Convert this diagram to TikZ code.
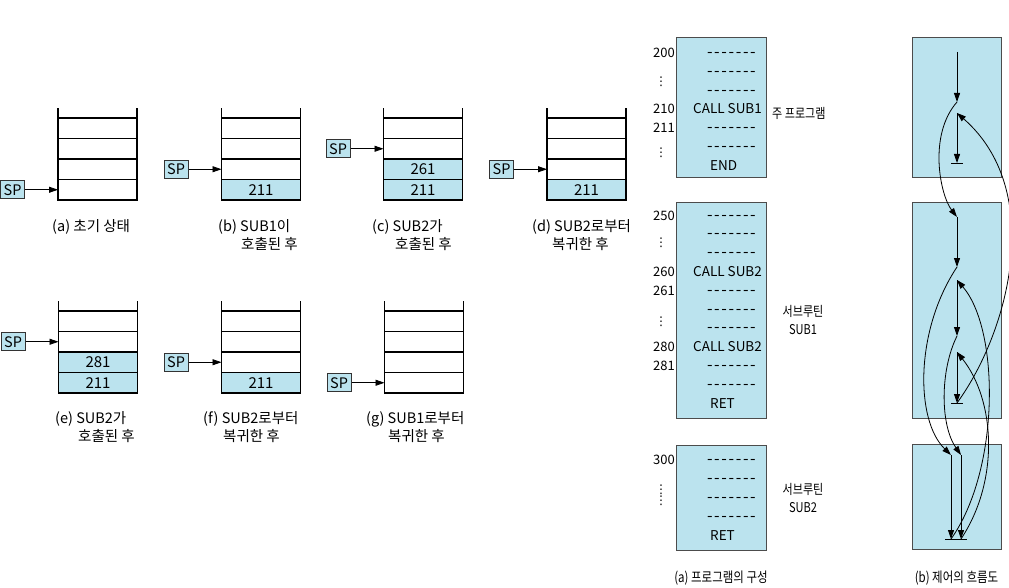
\documentclass[tikz,border=0pt]{standalone}
\usepackage{fontspec}
\setmainfont{Noto Sans CJK KR}
\newfontfamily\narrowkr{Noto Sans CJK KR}[FakeStretch=0.82]
\newfontfamily\symfont{DejaVu Sans}
\usepackage{xcolor}
\usetikzlibrary{positioning,calc,arrows.meta}
\definecolor{cellblue}{RGB}{187,227,238}
\newcommand{\codedash}{{\fontsize{16}{16}\selectfont\makebox[7.2pt]{-}\makebox[7.2pt]{-}\makebox[7.2pt]{-}\makebox[7.2pt]{-}\makebox[7.2pt]{-}\makebox[7.2pt]{-}\makebox[7.2pt]{-}}}

\begin{document}
\begin{tikzpicture}[
    x=1pt, y=-1pt,
    stackcell/.style={rectangle, draw=black, line width=1.1pt, minimum width=79pt, minimum height=20.5pt, inner sep=0pt, outer sep=0pt, font=\fontsize{15}{15}\selectfont},
    stackline/.style={draw=black, line width=1.1pt},
    spbox/.style={rectangle, draw=black!80, fill=cellblue, line width=0.8pt, minimum width=24pt, minimum height=18pt, inner sep=0pt, font=\fontsize{14.5}{14.5}\selectfont},
    ptr/.style={-{Triangle[length=9pt,width=6pt]}, line width=0.8pt},
    caption/.style={anchor=base west, align=left, inner sep=0pt, font=\fontsize{14.5}{18.5}\selectfont},
    progbox/.style={rectangle, draw=black!70, fill=cellblue, line width=1pt, minimum width=90pt, inner sep=0pt},
    codetext/.style={anchor=base west, inner sep=0pt, font=\fontsize{13.5}{13.5}\selectfont},
    addr/.style={anchor=base east, inner sep=0pt, font=\fontsize{13}{13}\selectfont},
    vdots/.style={inner sep=0pt, align=center, font=\symfont\fontsize{12}{11}\selectfont},
    sidelabel/.style={inner sep=0pt, align=center, font=\narrowkr\fontsize{13.5}{17.5}\selectfont},
    bottomcap/.style={anchor=base, inner sep=0pt, font=\narrowkr\fontsize{14}{14}\selectfont},
    flow/.style={-{Triangle[length=9pt,width=6pt]}, line width=0.8pt},
    tee/.style={line width=0.8pt}
]
    \useasboundingbox (0,0) rectangle (1009,588);

    \node[stackcell] (a1) at (97.5,189.75) {};
    \node[stackcell, above=0pt of a1] (a2) {};
    \node[stackcell, above=0pt of a2] (a3) {};
    \node[stackcell, above=0pt of a3] (a4) {};
    \draw[stackline] (a4.north west) -- ++(0,-10) (a4.north east) -- ++(0,-10);
    \node[spbox, left=33pt of a1] (spa) {SP};
    \draw[ptr] (spa) -- (a1);
    \node[caption] (capa) at (52,231) {(a) 초기 상태};

    \node[stackcell, fill=cellblue] (b1) at (261,189.75) {211};
    \node[stackcell, above=0pt of b1] (b2) {};
    \node[stackcell, above=0pt of b2] (b3) {};
    \node[stackcell, above=0pt of b3] (b4) {};
    \draw[stackline] (b4.north west) -- ++(0,-10) (b4.north east) -- ++(0,-10);
    \node[spbox, left=33pt of b2] (spb) {SP};
    \draw[ptr] (spb) -- (b2);
    \node[caption] (capb) at (218,249.5) {(b) SUB1이\\\hspace*{23pt}호출된 후};

    \node[stackcell, fill=cellblue] (c1) at (423,189.75) {211};
    \node[stackcell, fill=cellblue, above=0pt of c1] (c2) {261};
    \node[stackcell, above=0pt of c2] (c3) {};
    \node[stackcell, above=0pt of c3] (c4) {};
    \draw[stackline] (c4.north west) -- ++(0,-10) (c4.north east) -- ++(0,-10);
    \node[spbox, left=33pt of c3] (spc) {SP};
    \draw[ptr] (spc) -- (c3);
    \node[caption] (capc) at (372,249.5) {(c) SUB2가\\\hspace*{23pt}호출된 후};

    \node[stackcell, fill=cellblue] (d1) at (586.5,189.75) {211};
    \node[stackcell, above=0pt of d1] (d2) {};
    \node[stackcell, above=0pt of d2] (d3) {};
    \node[stackcell, above=0pt of d3] (d4) {};
    \draw[stackline] (d4.north west) -- ++(0,-10) (d4.north east) -- ++(0,-10);
    \node[spbox, left=33pt of d2] (spd) {SP};
    \draw[ptr] (spd) -- (d2);
    \node[caption] (capd) at (532,249.5) {(d) SUB2로부터\\\hspace*{20pt}복귀한 후};

    \node[stackcell, fill=cellblue] (e1) at (98,382.75) {211};
    \node[stackcell, fill=cellblue, above=0pt of e1] (e2) {281};
    \node[stackcell, above=0pt of e2] (e3) {};
    \node[stackcell, above=0pt of e3] (e4) {};
    \draw[stackline] (e4.north west) -- ++(0,-10) (e4.north east) -- ++(0,-10);
    \node[spbox, left=33pt of e3] (spe) {SP};
    \draw[ptr] (spe) -- (e3);
    \node[caption] (cape) at (55,441.5) {(e) SUB2가\\\hspace*{23pt}호출된 후};

    \node[stackcell, fill=cellblue] (f1) at (261,382.75) {211};
    \node[stackcell, above=0pt of f1] (f2) {};
    \node[stackcell, above=0pt of f2] (f3) {};
    \node[stackcell, above=0pt of f3] (f4) {};
    \draw[stackline] (f4.north west) -- ++(0,-10) (f4.north east) -- ++(0,-10);
    \node[spbox, left=33pt of f2] (spf) {SP};
    \draw[ptr] (spf) -- (f2);
    \node[caption] (capf) at (203,441.5) {(f) SUB2로부터\\\hspace*{20pt}복귀한 후};

    \node[stackcell] (g1) at (424,382.75) {};
    \node[stackcell, above=0pt of g1] (g2) {};
    \node[stackcell, above=0pt of g2] (g3) {};
    \node[stackcell, above=0pt of g3] (g4) {};
    \draw[stackline] (g4.north west) -- ++(0,-10) (g4.north east) -- ++(0,-10);
    \node[spbox, left=33pt of g1] (spg) {SP};
    \draw[ptr] (spg) -- (g1);
    \node[caption] (capg) at (366,441.5) {(g) SUB1로부터\\\hspace*{22pt}복귀한 후};

    \node[progbox, minimum height=140pt] (mainprog) at (721,108) {};
    \node[codetext] at (706,57.5) {\codedash};
    \node[codetext] at (706,76.3) {\codedash};
    \node[codetext] at (706,95.1) {\codedash};
    \node[codetext] at (693,113.9) {CALL SUB1};
    \node[codetext] at (706,132.7) {\codedash};
    \node[codetext] at (706,151.5) {\codedash};
    \node[codetext] at (710,170.3) {END};
    \node[addr] at (675,57.5) {200};
    \node[vdots] at (661,82) {⋮};
    \node[addr] at (675,113.9) {210};
    \node[addr] at (675,132.7) {211};
    \node[vdots] at (661,153) {⋮};
    \node[sidelabel, anchor=west] (mainlabel) at (772,113) {주 프로그램};

    \node[progbox, minimum height=215pt] (sub1prog) at (721,310.5) {};
    \node[codetext] at (706,220) {\codedash};
    \node[codetext] at (706,238.8) {\codedash};
    \node[codetext] at (706,257.6) {\codedash};
    \node[codetext] at (693,276.4) {CALL SUB2};
    \node[codetext] at (706,295.2) {\codedash};
    \node[codetext] at (706,314) {\codedash};
    \node[codetext] at (706,332.8) {\codedash};
    \node[codetext] at (693,351.6) {CALL SUB2};
    \node[codetext] at (706,370.4) {\codedash};
    \node[codetext] at (706,389.2) {\codedash};
    \node[codetext] at (710,408) {RET};
    \node[addr] at (675,220) {250};
    \node[vdots] at (661,243) {⋮};
    \node[addr] at (675,276.4) {260};
    \node[addr] at (675,295.2) {261};
    \node[vdots] at (661,322) {⋮};
    \node[addr] at (675,351.6) {280};
    \node[addr] at (675,370.4) {281};
    \node[sidelabel] (sub1label) at (803,320) {서브루틴\\SUB1};

    \node[progbox, minimum height=105pt] (sub2prog) at (721,497.5) {};
    \node[codetext] at (706,464) {\codedash};
    \node[codetext] at (706,483) {\codedash};
    \node[codetext] at (706,502) {\codedash};
    \node[codetext] at (706,521) {\codedash};
    \node[codetext] at (710,540) {RET};
    \node[addr] at (675,464) {300};
    \node[vdots] at (661,495) {⋮\\⋮};
    \node[sidelabel] (sub2label) at (803,498) {서브루틴\\SUB2};

    \node[bottomcap] (progcap) at (721,582) {(a) 프로그램의 구성};

    \node[progbox, minimum width=89pt, minimum height=140pt] (mainflow) at (956.5,108) {};
    \node[progbox, minimum width=89pt, minimum height=215pt] (sub1flow) at (956.5,310.5) {};
    \node[progbox, minimum width=89pt, minimum height=105pt] (sub2flow) at (956.5,497) {};
    \node[bottomcap] (flowcap) at (956.5,582) {(b) 제어의 흐름도};

    \coordinate (m0) at (957,52);
    \coordinate (m1) at (957,102);
    \coordinate (m2) at (957,113);
    \coordinate (m3) at (957,163);
    \coordinate (s0) at (957,217);
    \coordinate (s1) at (957,267);
    \coordinate (s2) at (957,280);
    \coordinate (s3) at (957,336);
    \coordinate (s4) at (957,352);
    \coordinate (s5) at (957,403);
    \coordinate (t0) at (951,455);
    \coordinate (t1) at (951,539);
    \coordinate (u0) at (961,455);
    \coordinate (u1) at (961,539);

    \draw[flow] (m0) -- (m1);
    \draw[flow] (m2) -- (m3);
    \draw[tee] ($(m3)+(-6,0)$) -- ($(m3)+(6,0)$);
    \draw[flow] (m1) .. controls (928,135) and (940,195) .. (s0);

    \draw[flow] (s0) -- (s1);
    \draw[flow] (s2) -- (s3);
    \draw[flow] (s4) -- (s5);
    \draw[tee] ($(s5)+(-6,0)$) -- ($(s5)+(6,0)$);
    \draw[flow] (s1) .. controls (915,330) and (915,420) .. (t0);
    \draw[flow] (s3) .. controls (940,370) and (940,425) .. (u0);
    \draw[flow] (s5) .. controls (1010,330) and (1045,190) .. (m2);

    \draw[flow] (t0) -- (t1);
    \draw[flow] (u0) -- (u1);
    \draw[tee] ($(t1)+(-6,0)$) -- ($(u1)+(6,0)$);
    \draw[flow] (t1) .. controls (1000,470) and (1000,330) .. (s2);
    \draw[flow] (u1) .. controls (1000,480) and (995,400) .. (s4);
\end{tikzpicture}
\end{document}
